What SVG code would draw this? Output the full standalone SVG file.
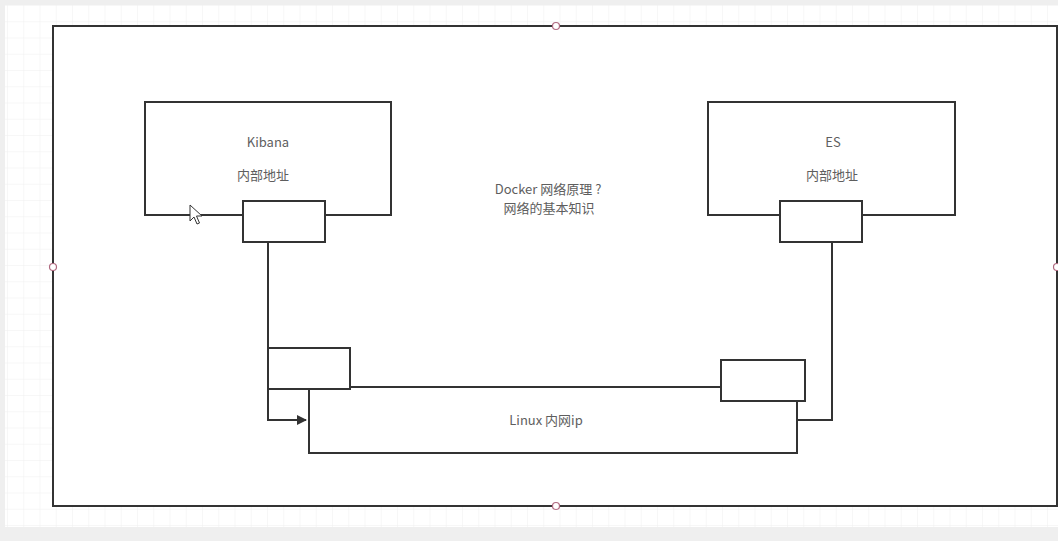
<svg xmlns="http://www.w3.org/2000/svg" width="1058" height="541" viewBox="0 0 1058 541">
<defs>
<pattern id="grid" x="7" y="5" width="16.25" height="16.25" patternUnits="userSpaceOnUse">
<path d="M0 0H16.25M0 0V16.25" fill="none" stroke="#efefef" stroke-width="1"/>
</pattern>
<marker id="arr" viewBox="0 0 10 10" refX="9" refY="5" markerWidth="5" markerHeight="5" orient="auto" markerUnits="strokeWidth">
<path d="M0 0L10 5L0 10Z" fill="#333"/>
</marker>
<style>
.box{fill:#fff;stroke:#333;stroke-width:2}
.ln{fill:none;stroke:#333;stroke-width:2}
.t{font-family:"Noto Sans CJK SC","Liberation Sans",sans-serif;font-size:13px;fill:#5e5e5e;text-anchor:middle}
.h{fill:#fff;stroke:#b06a80;stroke-width:1.2}
</style>
</defs>
<rect width="1058" height="541" fill="#efefef"/>
<rect x="5" y="5" width="1053" height="522" fill="#fff"/>
<rect x="5" y="5" width="1053" height="522" fill="url(#grid)"/>
<g id="frame">
<rect x="53" y="26" width="1004" height="480" class="box"/>
</g>
<g id="linux">
<rect x="309" y="387" width="488" height="66" class="box"/>
<text x="546" y="425" class="t">Linux 内网ip</text>
</g>
<g id="kibana">
<rect x="145" y="102" width="246" height="113" class="box"/>
<text x="268" y="147" class="t">Kibana</text>
<text x="263" y="180" class="t">内部地址</text>
</g>
<g id="es">
<rect x="708" y="102" width="247" height="113" class="box"/>
<text x="833" y="147" class="t">ES</text>
<text x="832" y="180" class="t">内部地址</text>
</g>
<g id="title">
<text x="548" y="194" class="t">Docker 网络原理 ?</text>
<text x="549" y="213" class="t">网络的基本知识</text>
</g>
<g id="connectors">
<path d="M268 242V420H306" class="ln" marker-end="url(#arr)"/>
<path d="M832 242V420H797" class="ln"/>
</g>
<g id="kibana-port">
<rect x="243" y="201" width="82" height="41" class="box"/>
</g>
<g id="es-port">
<rect x="780" y="201" width="82" height="41" class="box"/>
</g>
<g id="left-veth">
<rect x="268" y="348" width="82" height="41" class="box"/>
</g>
<g id="right-veth">
<rect x="721" y="360" width="84" height="41" class="box"/>
</g>
<g id="handles">
<circle cx="556" cy="26" r="3.5" class="h"/>
<circle cx="53" cy="267" r="3.5" class="h"/>
<circle cx="556" cy="506" r="3.5" class="h"/>
<circle cx="1057" cy="267" r="3.5" class="h"/>
</g>
<g id="cursor">
<path d="M190 205V221L194 217L197 224L199.5 223L196.5 216H202Z" fill="#fff" stroke="#333" stroke-width="1"/>
</g>
</svg>
